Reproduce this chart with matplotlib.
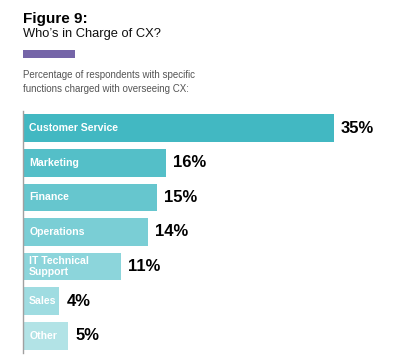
import matplotlib.pyplot as plt
from matplotlib.patches import Rectangle

plt.rcParams['font.family'] = ['Liberation Sans', 'DejaVu Sans']

categories = ['Customer Service', 'Marketing', 'Finance', 'Operations',
              'IT Technical\nSupport', 'Sales', 'Other']
values = [35, 16, 15, 14, 11, 4, 5]
colors = ['#42B8C2', '#54BFC8', '#66C6CE', '#7ACED5', '#8CD5DB', '#9FDCE1', '#B2E3E6']

W, H = 397, 361
fig = plt.figure(figsize=(W / 100, H / 100), dpi=100)

# axes box in pixels: left edge at the grey line, bars fill 0.8 of each row
ax = fig.add_axes([23 / W, 8 / H, 374 / W, 242 / H])
ypos = list(range(len(categories)))
ax.barh(ypos, values, height=0.8, color=colors, left=0.1)
ax.set_xlim(0, 374 / 310 * 35)
ax.set_ylim(6.5, -0.5)

for y, cat, v in zip(ypos, categories, values):
    ax.text(0.7, y, cat, color='white', fontsize=7.6, fontweight='bold',
            va='center', ha='left', linespacing=1.05)
    ax.text(v + 0.9, y, f'{v}%', color='black', fontsize=12, fontweight='bold',
            va='center', ha='left')

for s in ['top', 'right', 'bottom']:
    ax.spines[s].set_visible(False)
ax.spines['left'].set_color('#A0A0A0')
ax.spines['left'].set_linewidth(1)
ax.set_xticks([])
ax.set_yticks([])

# header
fig.text(23 / W, 1 - 23 / H, 'Figure 9:', fontsize=11, fontweight='bold',
         va='baseline', ha='left', color='black')
fig.text(23 / W, 1 - 37.5 / H, "Who’s in Charge of CX?", fontsize=9.3,
         va='baseline', ha='left', color='#111111')
fig.add_artist(Rectangle((23 / W, 1 - 58 / H), 52 / W, 8 / H,
                         transform=fig.transFigure, color='#7565A8', lw=0))
fig.text(23 / W, 1 - 78.5 / H, 'Percentage of respondents with specific',
         fontsize=7, va='baseline', ha='left', color='#555555')
fig.text(23 / W, 1 - 92 / H, 'functions charged with overseeing CX:',
         fontsize=7, va='baseline', ha='left', color='#555555')

plt.savefig('out.png', dpi=100)
